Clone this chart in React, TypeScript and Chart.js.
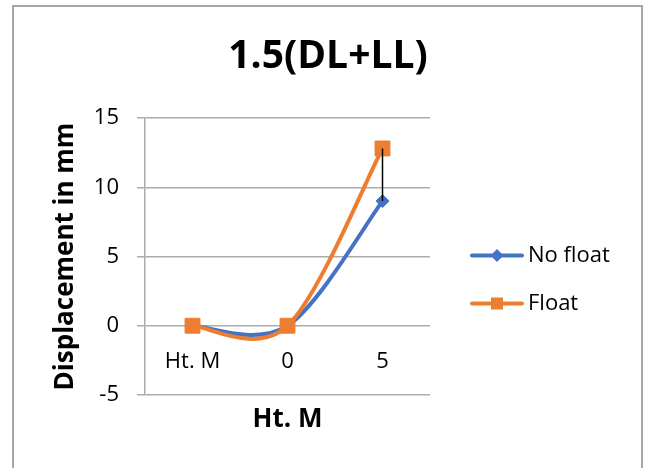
import React, { useEffect, useRef } from 'react';
import { Chart, registerables } from 'chart.js';

Chart.register(...registerables);

const categories = ['Ht. M', '0', '5'];
const noFloatValues = [0, 0, 9];
const floatValues = [0, 0, 12.8];
const yTickValues = [-5, 0, 5, 10, 15];
const seriesNames = ['No float', 'Float'];
const seriesColors = ['#4472C4', '#ED7D31'];
const chartTitle = '1.5(DL+LL)';
const yAxisTitle = 'Displacement in mm';
const xAxisTitle = 'Ht. M';

const FONT = "'Open Sans', sans-serif";
const GRID = '#ababab';

export default function App() {
  const ref = useRef<HTMLCanvasElement>(null);

  useEffect(() => {
    const canvas = ref.current;
    if (!canvas) return;

    const framePlugin = {
      id: 'frame',
      beforeDraw(chart: any) {
        const c = chart.ctx;
        c.save();
        c.fillStyle = '#ffffff';
        c.fillRect(0, 0, chart.width, chart.height);
        c.strokeStyle = '#a6a6a6';
        c.lineWidth = 2;
        c.beginPath();
        c.moveTo(13, chart.height + 5);
        c.lineTo(13, 6);
        c.lineTo(642, 6);
        c.lineTo(642, chart.height + 5);
        c.stroke();
        c.restore();
      },
    };

    // Excel-style smoothing (Catmull-Rom, 1/6 of neighbour span) for the control points
    const smoothPlugin = {
      id: 'excelSmooth',
      afterDatasetsUpdate(chart: any) {
        chart.data.datasets.forEach((_: any, di: number) => {
          const meta = chart.getDatasetMeta(di);
          const pts = meta.data;
          const n = pts.length;
          for (let i = 0; i < n; i++) {
            const p = pts[i];
            const prev = pts[Math.max(0, i - 1)];
            const next = pts[Math.min(n - 1, i + 1)];
            const dx = (next.x - prev.x) / 6;
            const dy = (next.y - prev.y) / 6;
            p.cp1x = p.x - dx;
            p.cp1y = p.y - dy;
            p.cp2x = p.x + dx;
            p.cp2y = p.y + dy;
          }
          if (meta.dataset) meta.dataset._pointsUpdated = true;
        });
      },
    };

    const hiLowPlugin = {
      id: 'hiLow',
      afterDatasetsDraw(chart: any) {
        const a = chart.getDatasetMeta(0).data;
        const b = chart.getDatasetMeta(1).data;
        const c = chart.ctx;
        c.save();
        c.strokeStyle = '#000000';
        c.lineWidth = 1.5;
        for (let i = 0; i < Math.min(a.length, b.length); i++) {
          if (Math.abs(a[i].y - b[i].y) < 0.5) continue;
          c.beginPath();
          c.moveTo(a[i].x, a[i].y);
          c.lineTo(b[i].x, b[i].y);
          c.stroke();
        }
        c.restore();
      },
    };

    const extrasPlugin = {
      id: 'extras',
      afterDraw(chart: any) {
        const c = chart.ctx;
        const area = chart.chartArea;
        c.save();
        // chart title
        c.fillStyle = '#000000';
        c.font = `bold 39px ${FONT}`;
        c.textAlign = 'center';
        c.textBaseline = 'middle';
        c.fillText(chartTitle, 328, 57);

        // x axis title
        c.font = `bold 26px ${FONT}`;
        c.fillText(xAxisTitle, (area.left + area.right) / 2, 420);

        // legend
        const lx = area.right + 40;
        const mid = (area.top + area.bottom) / 2 - 1;
        chart.data.datasets.forEach((ds: any, i: number) => {
          const y = mid + i * 48;
          const col = ds.borderColor;
          c.strokeStyle = col;
          c.fillStyle = col;
          c.lineWidth = 4;
          c.lineCap = 'round';
          c.beginPath();
          c.moveTo(lx + 2, y);
          c.lineTo(lx + 52, y);
          c.stroke();
          const cx = lx + 27;
          c.beginPath();
          if (ds.pointStyle === 'rectRot') {
            const r = 6.5;
            c.moveTo(cx, y - r);
            c.lineTo(cx + r, y);
            c.lineTo(cx, y + r);
            c.lineTo(cx - r, y);
            c.closePath();
          } else {
            const s = 6;
            c.rect(cx - s, y - s, 2 * s, 2 * s);
          }
          c.fill();
          c.fillStyle = '#000000';
          c.font = `22px ${FONT}`;
          c.textAlign = 'left';
          c.textBaseline = 'middle';
          c.fillText(ds.label, lx + 58, y);
        });
        c.restore();
      },
    };

    const chart = new Chart(canvas, {
      type: 'line',
      data: {
        labels: categories,
        datasets: [
          {
            label: seriesNames[0],
            data: noFloatValues,
            borderColor: seriesColors[0],
            backgroundColor: seriesColors[0],
            borderWidth: 4,
            pointStyle: 'rectRot',
            pointRadius: 6.5,
            pointBorderWidth: 1,
            tension: 0.4,
            order: 1,
          },
          {
            label: seriesNames[1],
            data: floatValues,
            borderColor: seriesColors[1],
            backgroundColor: seriesColors[1],
            borderWidth: 4,
            pointStyle: 'rect',
            pointRadius: 10.5,
            pointBorderWidth: 1,
            tension: 0.4,
            order: 0,
          },
        ],
      },
      options: {
        responsive: false,
        animation: false,
        events: [],
        layout: { padding: { left: 50, right: 220, top: 118, bottom: 73 } },
        plugins: {
          legend: { display: false },
          tooltip: { enabled: false },
          title: { display: false },
        },
        scales: {
          x: {
            type: 'category',
            offset: true,
            position: { y: 0 } as any,
            grid: { display: false, drawTicks: false },
            border: { display: false },
            ticks: {
              color: '#000000',
              font: { family: FONT, size: 22 },
              padding: 23,
              maxRotation: 0,
              autoSkip: false,
            },
          },
          y: {
            position: 'left',
            min: -5,
            max: 15,
            afterBuildTicks: (s: any) => {
              s.ticks = yTickValues.map((v) => ({ value: v }));
            },
            grid: { color: GRID, lineWidth: 1.5, tickLength: 8 },
            border: { color: GRID, width: 1.5 },
            ticks: {
              color: '#000000',
              font: { family: FONT, size: 22 },
              padding: 18,
            },
            title: {
              display: true,
              text: yAxisTitle,
              color: '#000000',
              font: { family: FONT, size: 26, weight: 'bold' },
              padding: 0,
            },
            afterFit: (s: any) => {
              s.width = 95;
            },
          },
        },
      },
      plugins: [framePlugin, smoothPlugin, hiLowPlugin, extrasPlugin],
    });

    return () => chart.destroy();
  }, []);

  return (
    <div style={{ position: 'absolute', left: 0, top: 0, width: 650, height: 468, background: '#fff' }}>
      <canvas ref={ref} width={650} height={468} style={{ display: 'block' }} />
    </div>
  );
}
